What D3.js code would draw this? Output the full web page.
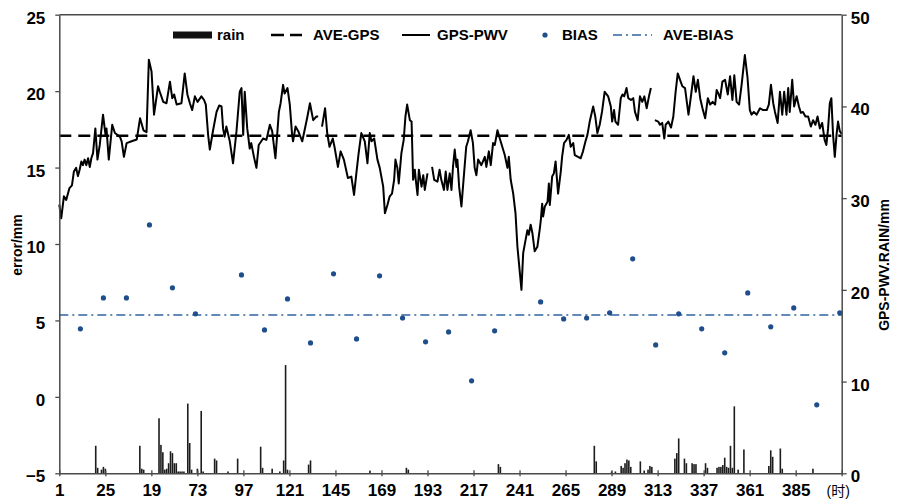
<!DOCTYPE html>
<html><head><meta charset="utf-8">
<script src="https://cdn.jsdelivr.net/npm/d3@7"></script>
<style>
body{margin:0;background:#fff;}
text{font-family:"Liberation Sans",Arial,Helvetica,sans-serif;}
</style>
</head><body>
<svg id="c" width="897" height="504"></svg>
<script>
// ---------------- data ----------------
const xTickHours = [1,25,49,73,97,121,145,169,193,217,241,265,289,313,337,361,385,409];
const xTickLabels = ["1","25","19","73","97","121","145","169","193","217","241","265","289","313","337","361","385","(时)"];
const leftTicks = [-5,0,5,10,15,20,25];
const rightTicks = [0,10,20,30,40,50];

const aveGps = 36.8;   // right axis
const aveBias = 5.35;  // left axis

// GPS-PWV (right axis), null = missing data
const pwvHours = [1,2,3.4,4.6,6.3,7.6,8.6,9.8,10.7,11.6,12.5,13.3,14.2,15.1,16,16.9,17.7,18.6,19.8,20.9,22.1,23.8,25.1,25.6,26.8,28.6,30,32.6,33.5,34.7,36.1,38.7,41.4,43.1,44.9,46.5,47.7,49.1,50.4,52.5,53.4,55.2,56.9,58.7,59.9,60.9,62.2,64.7,66.4,67.8,69.1,70.3,71.7,73.1,75.1,76.5,77.4,78.6,79.5,81.2,83,84.4,85.6,86.4,87.2,88.1,89.9,91.6,93.4,95.1,96,96.9,97.7,99,100.3,101.1,102.5,103.8,105,107.3,109,110.8,112,113.7,115.5,116.4,117.7,118.5,120,121.2,122.4,122.9,124.2,125.6,127.7,129.1,130.4,131.7,133.4,135.1,136,
137,
138,139.6,140.7,141.9,143.6,144.5,146.3,147.7,149.4,151.5,153.3,154.7,155.9,157.1,158.5,160.3,161.7,162.9,163.8,165.2,166.9,168.1,169.9,170.8,172.1,173.3,174.5,175.6,176.3,177.3,178,179.4,180.6,181.5,182.4,183.8,184.7,185.5,186.4,186.9,187.8,188.5,189.9,190.8,191.6,193,
194,
195.4,196.5,198.2,199.3,200.2,201.6,202.5,203.4,204.6,205.5,206.3,207.2,208.1,208.6,209.5,210.7,211.8,213.2,214.1,215.5,216.7,217.6,218.5,219.4,221.1,222.9,223.7,225,226,227.2,228.1,229.5,230.7,232,233.3,234.7,235.4,236.4,237.7,238.9,239.9,241.2,242,242.9,244.1,245.1,245.8,246.8,247.7,248.9,250.3,251.6,252.1,252.8,253.3,254.2,255.6,256.3,256.8,258,258.9,259.8,261.1,262.5,263.2,264.2,265.5,266.7,267.7,269,269.8,271.5,272.9,274.1,275.4,276.4,277.6,279.4,280.5,281.6,282.8,284,285.4,287.2,288.6,289.3,290.3,291,292.4,293.8,294.7,295.6,296.8,297.7,299.1,300.3,301.2,302.6,303.8,305,306.1,307.3,308.5,309.5,
310.5,
311.6,313.3,314.2,315.4,316.5,317.2,318.6,320,321.2,322.4,323.5,324.7,325.9,327.3,329.1,330.5,331.7,332.9,334,335.2,336.4,337.8,339.2,340.4,341.7,343,343.8,344.7,345.6,346.8,348.2,349.6,350.8,352,353,354.2,355.5,356.8,358.5,359.9,361.1,362,363.2,364.6,366.4,368.1,369.9,371,372.1,373.3,374.2,375.6,376.8,378,379,380.2,381.1,381.9,383.2,384.2,385.5,386.7,387.7,388.8,390.1,391.5,392.9,394.1,395.3,396.4,397.6,398.8,400.1,401,401.9,402.8,403.6,404.5,405.4,406.3,407.1,408,409];
const pwvValues = [29.3,27.8,30.2,29.8,31.1,31.4,32.9,33.3,32.4,33.1,34,33.6,34.2,33.6,34.35,33.4,34.35,34.9,37.6,34.2,35.8,39.1,36.9,37.6,34.2,38,37.1,36.7,36.2,34.5,36,36.2,36.4,38.7,37.4,37.2,45.1,43.8,39.1,42.2,41.6,40.5,40.35,42.7,40.9,41.3,40.2,40.35,43.6,41.3,40.35,39.6,41.1,40.5,41.1,40.7,40.2,36.9,35.3,37.4,39.4,40.1,40,37.6,36.7,37.8,36.2,33.8,37.3,41.6,42,36.9,41.6,37.6,35.4,36,34.5,33.3,35.8,36.5,36.35,38,37.3,34.35,39.4,40.35,42.35,41.4,42,40.2,36.9,36.2,37.8,37.3,36.2,37.6,38.9,40.35,38.5,38.9,38.9,
null,
37.8,39.8,37.1,35.6,36.5,35.6,33.4,35.1,34.2,32.2,32.35,30.35,32.7,34.9,37.1,36.2,33.8,37.1,36.2,36.5,34.2,33.3,31.25,28.35,29.25,30.2,30.5,32,34.2,33.3,31.6,34.9,36.35,38.9,40.2,38.5,38.35,32,33.1,32,30.35,33.1,31.25,32.5,30.9,32.7,
null,
33.4,32,31.8,33.1,32,30.9,32.9,30.9,32.7,30.9,33.4,35.3,33.4,34.2,31.25,29.1,32,35.6,36.2,37.4,36,33.3,32.5,34.2,33.6,34.5,33.4,35.1,33.6,36,35.8,37.4,36.5,35.6,34.7,33.3,34.5,32,30.5,28.35,24.7,21.8,20,24,25.4,26.5,26,27.1,26.2,24.2,24.7,26.7,27.6,29.4,28,29.1,29.6,31.6,29.25,32.35,32.7,34,30.5,32.9,34.5,36,36.35,36.9,35.6,36,34.7,34.5,34.35,35.1,36.2,36.9,38.35,40,38.9,37.1,38,39.4,41.6,41.1,40,38.35,39.6,38.35,38,40.9,41.3,41.1,42,40.9,40.7,40.9,39.4,38.5,41.1,40.5,41.1,39.8,41.1,42,
null,
38.5,38.35,38,38.2,36.5,38,38.35,37.7,38.9,41.6,43.6,42.9,42.2,42,39.1,41.3,43.3,41.6,42.9,40.9,39.8,38.7,40.9,40.2,40.5,40.2,41.8,41.4,40.9,42.7,42.9,41.3,43.3,40.7,43.4,40.5,40.2,42.35,45.6,43.1,39.6,39.1,39.4,39.1,39.8,39.6,39.6,40.2,42.35,40.35,39.4,38.2,41.6,39.1,41.6,39.1,42,39.4,42.9,40,41.1,40,39.3,39.4,38.9,38.9,37.8,38.5,38,38.9,37.6,38.2,36.35,35.8,37.6,40.35,40.9,36.9,34.5,36.9,38.35,37.3,37];

// hourly rain (right axis)
const rainHours = [20,21,23,24,25,43,44,45,53,54,55,56,57,58,59,60,61,62,63,64,65,66,68,69,70,73,75,76,82,83,89,94,106,107,112,116,118,119,120,131,132,163,182,183,230,231,280,281,289,291,294,295,296,297,298,299,304,306,308,309,310,322,323,324,327,328,331,332,333,338,339,344,345,346,347,348,349,350,351,352,353,355,358,371,372,373,377,378,394];
const rainValues = [3.0,0.6,0.4,0.7,0.5,3.0,0.5,0.4,6.0,3.1,2.3,0.4,0.5,1.1,2.4,2.2,1.1,1.1,0.2,0.2,0.2,0.2,7.6,3.3,0.4,0.5,6.8,0.2,1.6,1.4,0.2,1.6,2.9,0.6,0.5,0.2,1.4,11.8,0.4,0.95,1.4,0.3,0.6,0.4,1.0,0.7,3.0,1.3,0.2,0.2,0.8,0.6,1.1,1.5,1.4,0.7,1.3,0.3,0.4,0.8,0.7,1.6,2.2,3.8,1.6,1.1,1.1,1.0,1.0,1.1,0.6,0.6,0.7,0.7,0.9,1.7,0.7,0.6,3.0,0.6,7.3,0.4,2.6,0.8,2.5,1.8,2.7,0.5,0.5];

// BIAS (left axis), every 12 h
const biasHours = [12,24,36,48,60,72,96,108,120,132,144,156,168,180,192,204,216,228,252,264,276,288,300,312,324,336,348,360,372,384,396,408];
const biasValues = [4.45,6.47,6.47,11.25,7.13,5.43,7.98,4.38,6.41,3.53,8.05,3.79,7.92,5.16,3.6,4.25,1.05,4.32,6.21,5.1,5.16,5.5,9.03,3.4,5.43,4.45,2.88,6.8,4.58,5.82,-0.52,5.5];

// ---------------- chart ----------------
const svg = d3.select("#c");
const L = 59.3, R = 841.7, T = 14.7, B = 473.3;
const x = d3.scaleLinear().domain([1, 409]).range([L, R]);
const yL = d3.scaleLinear().domain([-5, 25]).range([B, T]);
const yR = d3.scaleLinear().domain([0, 50]).range([B, T]);
const axisColor = "#4a4a4a";
const blue = "#1f4e8c";

// rain bars
svg.append("g").selectAll("rect").data(rainHours.map((h,i)=>({h, v: rainValues[i]})))
  .join("rect")
  .attr("x", d => x(d.h) - 0.8)
  .attr("width", 1.6)
  .attr("y", d => yR(d.v))
  .attr("height", d => yR(0) - yR(d.v))
  .attr("fill", "#1c1c1c");

// AVE-GPS
svg.append("line")
  .attr("x1", L).attr("x2", R)
  .attr("y1", yR(aveGps)).attr("y2", yR(aveGps))
  .attr("stroke", "#000").attr("stroke-width", 2.5).attr("stroke-dasharray", "12,7");

// GPS-PWV line
const pwv = pwvHours.map((h,i)=>({h, v: pwvValues[i]}));
svg.append("path").datum(pwv)
  .attr("fill", "none").attr("stroke", "#000").attr("stroke-width", 2).attr("stroke-linejoin", "round")
  .attr("d", d3.line().defined(d => d.v !== null).x(d => x(d.h)).y(d => yR(d.v)));

// AVE-BIAS
svg.append("line")
  .attr("x1", L).attr("x2", R)
  .attr("y1", yL(aveBias)).attr("y2", yL(aveBias))
  .attr("stroke", "#2f64a3").attr("stroke-width", 1.5).attr("stroke-dasharray", "9,4,2,4");

// BIAS points
svg.append("g").selectAll("circle").data(biasHours.map((h,i)=>({h, v: biasValues[i]})))
  .join("circle")
  .attr("cx", d => x(d.h)).attr("cy", d => yL(d.v)).attr("r", 2.6)
  .attr("fill", blue);

// axes
function styleAxis(g){
  g.selectAll("path.domain").attr("stroke", axisColor).attr("stroke-width", 1.5);
  g.selectAll(".tick line").attr("stroke", axisColor).attr("stroke-width", 1.3);
  g.selectAll(".tick text").attr("fill", "#000")
    .style("font-size", "17px").style("font-weight", "bold")
    .style("font-family", "'Liberation Sans', Arial, sans-serif");
}
const gL = svg.append("g").attr("transform", `translate(${L},0)`)
  .call(d3.axisLeft(yL).tickValues(leftTicks).tickFormat(d3.format("d")).tickSize(4).tickSizeOuter(0).tickPadding(10));
styleAxis(gL); gL.selectAll(".tick text").attr("dy", "0.5em");

const gR = svg.append("g").attr("transform", `translate(${R},0)`)
  .call(d3.axisRight(yR).tickValues(rightTicks).tickSize(5).tickSizeOuter(0).tickPadding(4));
styleAxis(gR); gR.selectAll(".tick text").attr("dy", "0.5em");

const gB = svg.append("g").attr("transform", `translate(0,${B})`)
  .call(d3.axisBottom(x).tickValues(xTickHours).tickFormat((d,i)=>xTickLabels[i]).tickSize(3).tickSizeOuter(0).tickPadding(8));
styleAxis(gB);
gB.selectAll(".tick line").attr("y1", -3);
gB.selectAll(".tick text").filter((d,i)=> i === xTickHours.length-1)
  .style("font-size", "14px").style("font-weight", "normal")
  .style("font-family", "'Liberation Sans','Noto Sans CJK SC',sans-serif")
  .attr("dx", "-4").attr("y", 13);

// top border
svg.append("line").attr("x1", L).attr("x2", R).attr("y1", T).attr("y2", T)
  .attr("stroke", axisColor).attr("stroke-width", 1.5);

// axis titles
svg.append("text").attr("transform", "translate(22,245) rotate(-90)")
  .attr("text-anchor", "middle").style("font-size", "14px").style("font-weight", "bold").text("error/mm");
svg.append("text").attr("transform", "translate(889,265) rotate(-90)")
  .attr("text-anchor", "middle").style("font-size", "14px").style("font-weight", "bold").text("GPS-PWV.RAIN/mm");

// legend
const lg = svg.append("g").style("font-size", "15px").style("font-weight", "bold");
const ly = 35;
lg.append("rect").attr("x", 173).attr("y", ly-3.5).attr("width", 39).attr("height", 7).attr("fill", "#111");
lg.append("text").attr("x", 217).attr("y", ly+5).text("rain");
lg.append("line").attr("x1", 271).attr("x2", 302).attr("y1", ly).attr("y2", ly)
  .attr("stroke", "#000").attr("stroke-width", 2.5).attr("stroke-dasharray", "13,6");
lg.append("text").attr("x", 313).attr("y", ly+5).text("AVE-GPS");
lg.append("line").attr("x1", 402).attr("x2", 430).attr("y1", ly).attr("y2", ly)
  .attr("stroke", "#000").attr("stroke-width", 2);
lg.append("text").attr("x", 437).attr("y", ly+5).text("GPS-PWV");
lg.append("circle").attr("cx", 545).attr("cy", ly).attr("r", 2.6).attr("fill", blue);
lg.append("text").attr("x", 562).attr("y", ly+5).text("BIAS");
lg.append("line").attr("x1", 613).attr("x2", 652).attr("y1", ly).attr("y2", ly)
  .attr("stroke", "#2f64a3").attr("stroke-width", 1.5).attr("stroke-dasharray", "9,4,2,4");
lg.append("text").attr("x", 663).attr("y", ly+5).text("AVE-BIAS");
</script>
</body></html>
